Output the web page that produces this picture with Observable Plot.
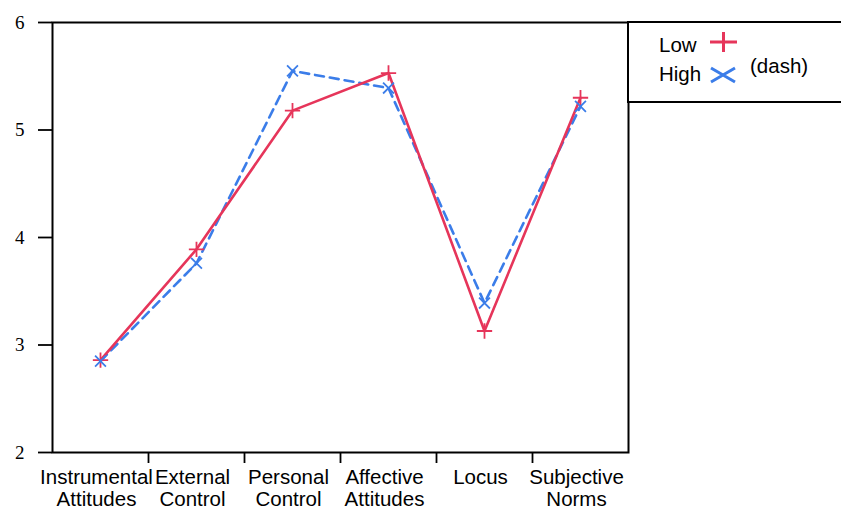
<!DOCTYPE html>
<html>
<head>
<meta charset="utf-8">
<script src="https://cdn.jsdelivr.net/npm/d3@7"></script>
<script src="https://cdn.jsdelivr.net/npm/@observablehq/plot@0.6"></script>
<style>
  html, body { margin: 0; padding: 0; background: #fff; }
  svg { display: block; }
</style>
</head>
<body>
<div id="chart"></div>
<script>
// ---- data ----
const categories = ["Instrumental Attitudes", "External Control", "Personal Control", "Affective Attitudes", "Locus", "Subjective Norms"];
const tickLabels = ["Instrumental\nAttitudes", "External\nControl", "Personal\nControl", "Affective\nAttitudes", "Locus", "Subjective\nNorms"];
const lowValues  = [2.86, 3.89, 5.18, 5.53, 3.13, 5.30];
const highValues = [2.85, 3.76, 5.55, 5.39, 3.39, 5.22];
const yTicks = [2, 3, 4, 5, 6];
const seriesNames = ["Low", "High"];

const red = "#E6355A";
const blue = "#3B7DE9";
const sans = "'Liberation Sans', Arial, sans-serif";
const serif = "'Liberation Serif', 'Times New Roman', serif";

const low = categories.map((c, i) => ({cat: c, idx: i, value: lowValues[i]}));
const high = categories.map((c, i) => ({cat: c, idx: i, value: highValues[i]}));
const boundaries = d3.range(1, categories.length).map(i => i - 0.5);

const svg = Plot.plot({
  width: 841,
  height: 510,
  marginLeft: 52,
  marginRight: 213,
  marginTop: 22,
  marginBottom: 58,
  x: {domain: [-0.5, categories.length - 0.5], axis: null, label: null},
  y: {domain: [2, 6], axis: null, label: null},
  marks: [
    Plot.axisY({ticks: yTicks, tickSize: 14, tickPadding: 14, tickFormat: d => String(d), label: null,
                fontSize: 19, fontFamily: serif, strokeWidth: 1.8, color: "black"}),
    Plot.axisX({ticks: boundaries, tickSize: 11, tickFormat: () => "", label: null, strokeWidth: 1.8}),
    Plot.text(categories, {
      x: (d, i) => i,
      text: (d, i) => tickLabels[i],
      frameAnchor: "bottom",
      lineAnchor: "top",
      textAnchor: "middle",
      dx: -4,
      dy: 15,
      fontSize: 20.5,
      lineHeight: 1.1,
      fontFamily: sans,
      fill: "black"
    }),
    Plot.frame({stroke: "black", strokeWidth: 2}),
    Plot.line(high, {x: "idx", y: "value", stroke: blue, strokeWidth: 2.6, strokeDasharray: "9,6"}),
    Plot.line(low, {x: "idx", y: "value", stroke: red, strokeWidth: 2.6}),
    Plot.dot(low, {x: "idx", y: "value", symbol: "plus", r: 5, stroke: red, strokeWidth: 1.8}),
    Plot.dot(high, {x: "idx", y: "value", symbol: "times", r: 5, stroke: blue, strokeWidth: 1.8})
  ]
});

// ---- legend (drawn into the same SVG) ----
const s = d3.select(svg);
const lg = s.append("g").attr("text-anchor", "start");
lg.append("rect")
  .attr("x", 628).attr("y", 22).attr("width", 222).attr("height", 80)
  .attr("fill", "white").attr("stroke", "black").attr("stroke-width", 2);
lg.append("text").attr("x", 659).attr("y", 52).attr("text-anchor", "start").text(seriesNames[0])
  .attr("font-family", sans).attr("font-size", 20.5).attr("fill", "black");
lg.append("text").attr("x", 659).attr("y", 81).attr("text-anchor", "start").text(seriesNames[1])
  .attr("font-family", sans).attr("font-size", 20.5).attr("fill", "black");
lg.append("path").attr("d", "M710,42H737M723.5,32V52")
  .attr("stroke", red).attr("stroke-width", 3).attr("fill", "none");
lg.append("path").attr("d", "M711,68L735,82M711,82L735,68")
  .attr("stroke", blue).attr("stroke-width", 3).attr("fill", "none");
lg.append("text").attr("x", 750).attr("y", 73).attr("text-anchor", "start").text("(dash)")
  .attr("font-family", sans).attr("font-size", 20.5).attr("fill", "black");

document.getElementById("chart").appendChild(svg);
</script>
</body>
</html>
